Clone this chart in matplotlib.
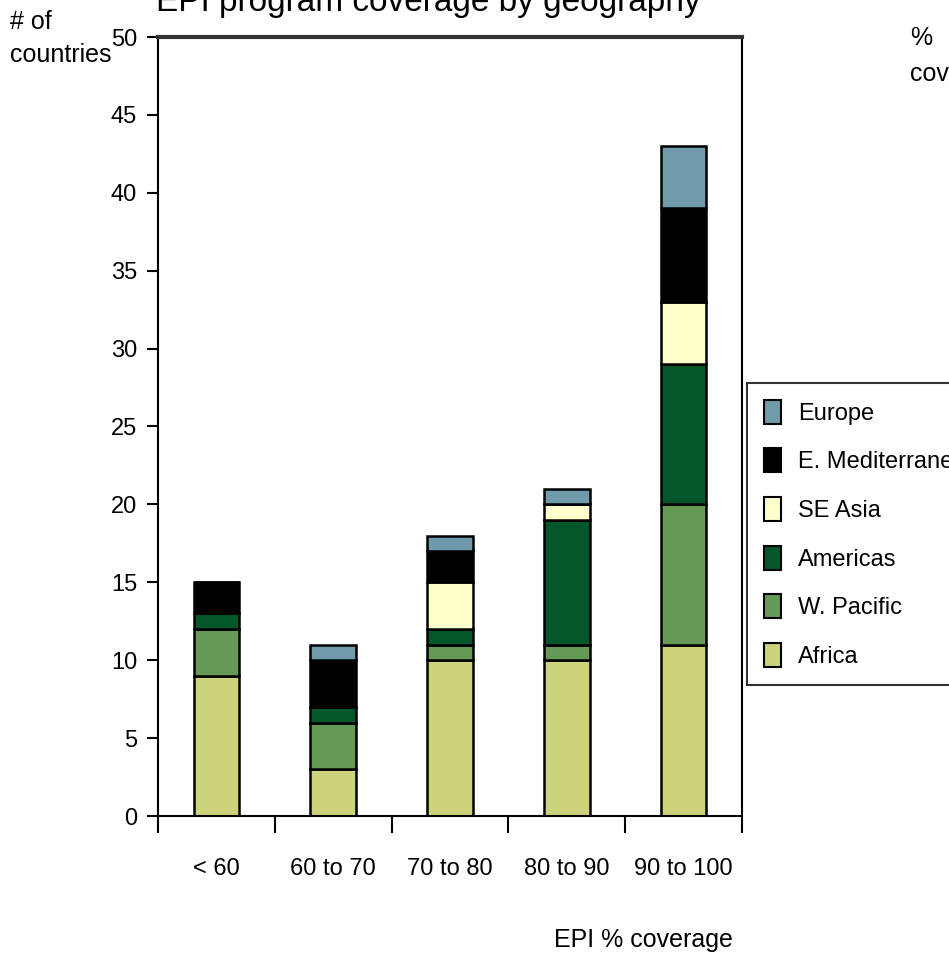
from matplotlib import pyplot as plt
import numpy as np

# coverage bands and number of countries per region
bands = ['< 60', '60 to 70', '70 to 80', '80 to 90', '90 to 100']
regions = ['Africa', 'W. Pacific', 'Americas', 'SE Asia', 'E. Mediterranean', 'Europe']
africa = [9, 3, 10, 10, 11]
w_pacific = [3, 3, 1, 1, 9]
americas = [1, 1, 1, 8, 9]
se_asia = [0, 0, 3, 1, 4]
e_med = [2, 3, 2, 0, 6]
europe = [0, 1, 1, 1, 4]

colors = ['#CCD37A', '#669955', '#03572B', '#FFFFCC', '#000000', '#6F9BAA']

plt.rcParams['font.family'] = ['Liberation Sans', 'DejaVu Sans']

fig = plt.figure(figsize=(9.49, 9.55), dpi=100)
ax = fig.add_axes([158/949, 1 - 816/955, (742 - 158)/949, (816 - 37)/955])

x = np.arange(len(bands))
bottom = np.zeros(len(bands))
handles = []
for name, vals, c in zip(regions, [africa, w_pacific, americas, se_asia, e_med, europe], colors):
    vals = np.array(vals)
    b = ax.bar(x, vals, 0.39, bottom=bottom, color=c, edgecolor='black',
               linewidth=1.8, label=name)
    handles.append(b)
    bottom += vals

ax.set_xlim(-0.5, 4.5)
ax.set_ylim(0, 50)
ax.set_yticks(range(0, 51, 5))
ax.tick_params(axis='y', labelsize=17, length=8, width=1.5, direction='out', pad=7)

ax.set_xticks(x)
ax.set_xticklabels(bands)
ax.tick_params(axis='x', which='major', length=0, labelsize=17, pad=30)
ax.set_xticks(np.arange(-0.5, 5, 1), minor=True)
ax.tick_params(axis='x', which='minor', length=12, width=1.5, direction='out')

for s in ['left', 'bottom', 'right']:
    ax.spines[s].set_linewidth(1.5)
ax.spines['top'].set_linewidth(3)
ax.spines['top'].set_color('#333333')

fig.text(428/949, 1 - 11/955, 'EPI program coverage by geography', ha='center',
         va='baseline', fontsize=24)
fig.text(10/949, 1 - 10/955, '# of\ncountries', ha='left', va='top', fontsize=18,
         linespacing=1.45)
fig.text(910/949, 1 - 26/955, '%\ncoverage', ha='left', va='top', fontsize=18,
         linespacing=1.65)
fig.text(733/949, 1 - 952/955, 'EPI % coverage', ha='right', va='bottom', fontsize=18)

leg = ax.legend(handles[::-1], regions[::-1], loc='upper left',
                bbox_to_anchor=(747/949, 1 - 383/955), bbox_transform=fig.transFigure,
                fontsize=17, frameon=True, fancybox=False, edgecolor='black',
                handlelength=0.75, handleheight=1.2, handletextpad=0.7,
                labelspacing=1.0, borderpad=0.7, borderaxespad=0)
leg.get_frame().set_linewidth(1.5)
for p in leg.get_patches():
    p.set_linewidth(1.5)

plt.savefig('out.png', dpi=100)
